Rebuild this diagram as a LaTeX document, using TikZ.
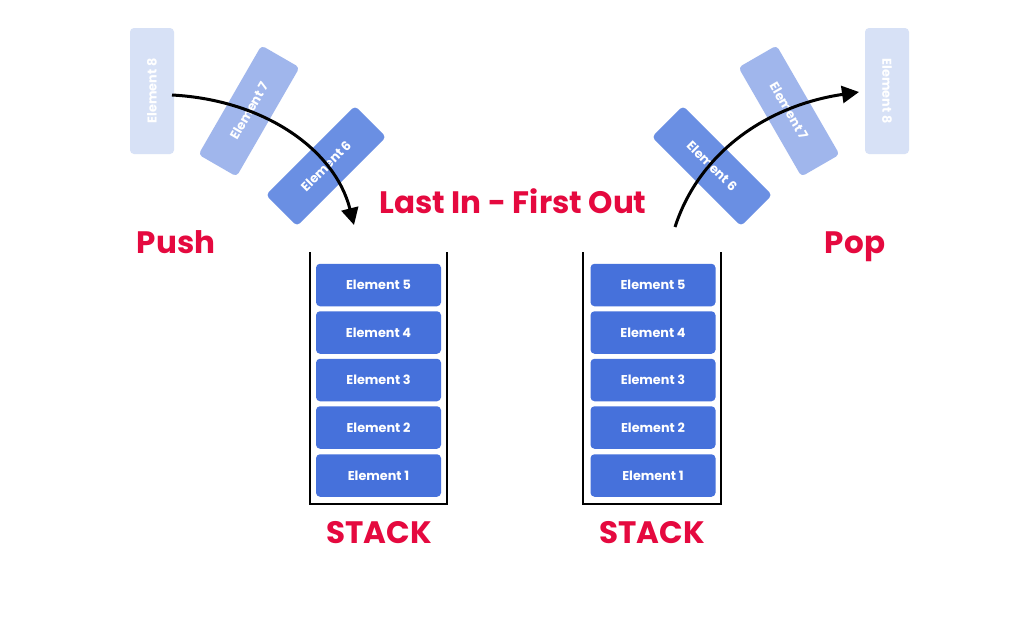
\documentclass[tikz,border=0pt]{standalone}
\usepackage{fontspec}
\setmainfont{Poppins}
\usetikzlibrary{arrows.meta}
\definecolor{redc}{HTML}{E5093F}
\definecolor{el}{HTML}{4671DB}
\definecolor{elsix}{HTML}{6A8FE3}
\definecolor{elseven}{HTML}{A0B6EC}
\definecolor{eleight}{HTML}{D7E1F6}
\tikzset{
  elbox/.style={rounded corners=4pt, minimum width=125pt, minimum height=42.5pt, inner sep=0pt,
    text=white, font=\fontsize{12.8}{12.8}\selectfont\bfseries, fill=el},
  flybox/.style={rounded corners=4pt, minimum width=126pt, minimum height=44pt, inner sep=0pt,
    text=white, font=\fontsize{12.8}{12.8}\selectfont\bfseries},
  title/.style={text=redc, font=\fontsize{31}{31}\selectfont\bfseries, anchor=base, inner sep=0pt},
  wall/.style={line width=1.6pt, black},
  mover/.style={line width=3pt, -{Triangle[length=17pt,width=17pt]}}
}
\begin{document}
\begin{tikzpicture}[x=1pt,y=-1pt]
\useasboundingbox[fill=white] (0,0) rectangle (1024,624);
% left stack
\draw[wall] (310,252) -- (310,504) -- (447,504) -- (447,252);
\node[elbox] (a5) at (378.5,285) {Element 5};
\node[elbox] (a4) at (378.5,332.5) {Element 4};
\node[elbox] (a3) at (378.5,380) {Element 3};
\node[elbox] (a2) at (378.5,427.5) {Element 2};
\node[elbox] (a1) at (378.5,475.5) {Element 1};
\node[title] (s1) at (379,543) {STACK};
% right stack
\draw[wall] (583,252) -- (583,504) -- (721,504) -- (721,252);
\node[elbox] (b5) at (653,285) {Element 5};
\node[elbox] (b4) at (653,332.5) {Element 4};
\node[elbox] (b3) at (653,380) {Element 3};
\node[elbox] (b2) at (653,427.5) {Element 2};
\node[elbox] (b1) at (653,475.5) {Element 1};
\node[title] (s2) at (652,543) {STACK};
% titles
\node[title] (lifo) at (513,213.5) {Last In - First Out};
\node[title] (push) at (176,253) {Push};
\node[title] (pop) at (855,253) {Pop};
% flying elements left
\node[flybox, fill=eleight, rotate=90] (l8) at (152,91) {Element 8};
\node[flybox, fill=elseven, rotate=60] (l7) at (249,111) {Element 7};
\node[flybox, fill=elsix, rotate=45] (l6) at (326,166) {Element 6};
% flying elements right
\node[flybox, fill=eleight, rotate=-90] (r8) at (887,91) {Element 8};
\node[flybox, fill=elseven, rotate=-60] (r7) at (789,111) {Element 7};
\node[flybox, fill=elsix, rotate=-45] (r6) at (712,166) {Element 6};
% arrows
\coordinate (ps) at (172,95);
\coordinate (pe) at (354,225);
\coordinate (qs) at (675,227);
\coordinate (qe) at (859,92);
\draw[mover] (ps) .. controls (265,100) and (335,150) .. (pe);
\draw[mover] (qs) .. controls (700,150) and (770,105) .. (qe);
\end{tikzpicture}
\end{document}
